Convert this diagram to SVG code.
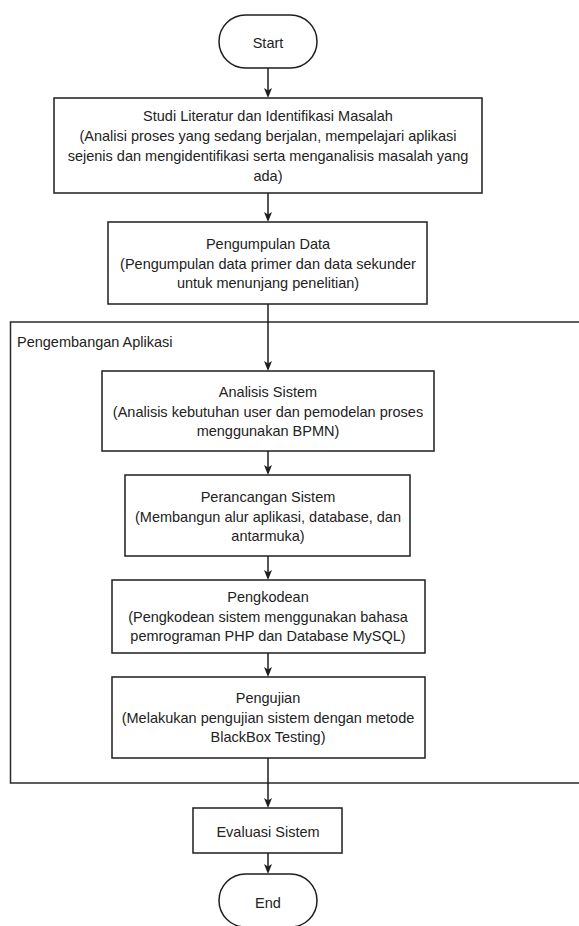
<svg xmlns="http://www.w3.org/2000/svg" width="579" height="926" viewBox="0 0 579 926">
<style>
.box{fill:#fff;stroke:#1e1e1e;stroke-width:1.5}
.cont{fill:none;stroke:#2a2a2a;stroke-width:1.5}
.t{font-family:"Liberation Sans",Arial,sans-serif;font-size:14.5px;fill:#222;text-anchor:middle}
.lbl{font-family:"Liberation Sans",Arial,sans-serif;font-size:14.5px;fill:#222}
.edge{stroke:#1e1e1e;stroke-width:1.5;fill:none;marker-end:url(#arr)}
</style>
<defs>
<marker id="arr" viewBox="0 0 10 8" refX="7" refY="4" markerWidth="10" markerHeight="8" markerUnits="userSpaceOnUse" orient="auto">
<path d="M0,0 L10,4 L0,8 L2.5,4 z" fill="#1e1e1e"/>
</marker>
</defs>
<rect width="579" height="926" fill="#fff"/>
<g id="container">
<path class="cont" d="M590,322 H10.5 V783 H590"/>
<text class="lbl" x="17" y="347">Pengembangan Aplikasi</text>
</g>
<g id="connectors">
<line class="edge" x1="268" y1="68" x2="268" y2="95"/>
<line class="edge" x1="268" y1="193" x2="268" y2="219"/>
<line class="edge" x1="268" y1="304" x2="268" y2="368"/>
<line class="edge" x1="268" y1="451" x2="268" y2="472"/>
<line class="edge" x1="268" y1="556" x2="268" y2="577"/>
<line class="edge" x1="268" y1="653" x2="268" y2="674"/>
<line class="edge" x1="268" y1="758" x2="268" y2="805"/>
<line class="edge" x1="268" y1="853" x2="268" y2="871"/>
</g>
<g id="start">
<rect class="box" x="219" y="15" width="98" height="53" rx="26.5" ry="26.5"/>
<text class="t" x="268" y="48">Start</text>
</g>
<g id="studi">
<rect class="box" x="54" y="98" width="428" height="95"/>
<text class="t" x="268" y="121">Studi Literatur dan Identifikasi Masalah</text>
<text class="t" x="268" y="141">(Analisi proses yang sedang berjalan, mempelajari aplikasi</text>
<text class="t" x="268" y="161">sejenis dan mengidentifikasi serta menganalisis masalah yang</text>
<text class="t" x="268" y="180.5">ada)</text>
</g>
<g id="pengumpulan">
<rect class="box" x="108" y="222" width="319" height="82"/>
<text class="t" x="268" y="249">Pengumpulan Data</text>
<text class="t" x="268" y="269">(Pengumpulan data primer dan data sekunder</text>
<text class="t" x="268" y="288">untuk menunjang penelitian)</text>
</g>
<g id="analisis">
<rect class="box" x="102" y="371" width="332" height="80"/>
<text class="t" x="268" y="397">Analisis Sistem</text>
<text class="t" x="268" y="417">(Analisis kebutuhan user dan pemodelan proses</text>
<text class="t" x="268" y="436">menggunakan BPMN)</text>
</g>
<g id="perancangan">
<rect class="box" x="125" y="475" width="285" height="81"/>
<text class="t" x="268" y="502">Perancangan Sistem</text>
<text class="t" x="268" y="522">(Membangun alur aplikasi, database, dan</text>
<text class="t" x="268" y="541">antarmuka)</text>
</g>
<g id="pengkodean">
<rect class="box" x="112" y="580" width="313" height="73"/>
<text class="t" x="268" y="602">Pengkodean</text>
<text class="t" x="268" y="622">(Pengkodean sistem menggunakan bahasa</text>
<text class="t" x="268" y="641">pemrograman PHP dan Database MySQL)</text>
</g>
<g id="pengujian">
<rect class="box" x="112" y="677" width="313" height="81"/>
<text class="t" x="268" y="703">Pengujian</text>
<text class="t" x="268" y="723">(Melakukan pengujian sistem dengan metode</text>
<text class="t" x="268" y="742">BlackBox Testing)</text>
</g>
<g id="evaluasi">
<rect class="box" x="193" y="808" width="149" height="45"/>
<text class="t" x="268" y="837">Evaluasi Sistem</text>
</g>
<g id="end">
<rect class="box" x="219" y="874" width="98" height="53" rx="26.5" ry="26.5"/>
<text class="t" x="268" y="908">End</text>
</g>
</svg>
